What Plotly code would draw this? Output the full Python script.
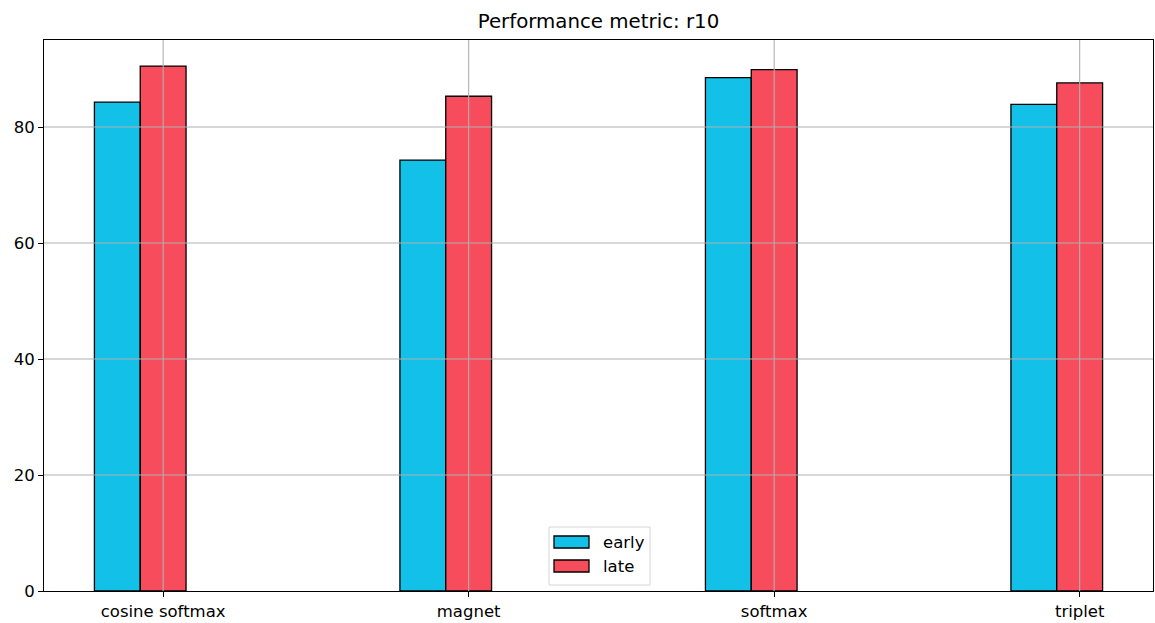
import plotly.graph_objects as go

# Recall@10 per loss function, at the early and late checkpoints
categories = ["cosine softmax", "magnet", "softmax", "triplet"]
early = [84.3, 74.3, 88.5, 83.9]
late = [90.5, 85.3, 89.9, 87.6]
y_ticks = [0, 20, 40, 60, 80]

EARLY_COLOR = "#13c1e8"
LATE_COLOR = "#f64c5b"
GRID_COLOR = "#b0b0b0"
FONT = "DejaVu Sans"
TICK_SIZE = 16.5

W, H = 1155, 623
M_L, M_R, M_T, M_B = 44, 2, 40, 32
PLOT_W = W - M_L - M_R
PLOT_H = H - M_T - M_B

positions = list(range(len(categories)))
bar_width = 0.15

series = [("early", early, EARLY_COLOR, -0.225), ("late", late, LATE_COLOR, -0.075)]

fig = go.Figure()
for name, vals, color, off in series:
    fig.add_trace(go.Bar(
        x=positions, y=vals, name=name,
        width=bar_width, offset=off, showlegend=False,
        marker=dict(color=color, line=dict(color="black", width=1.3)),
    ))


def px(x):
    return (x - M_L) / PLOT_W


def py(y):
    return (H - M_B - y) / PLOT_H


# grid lines drawn above the bars
shapes = []
for v in y_ticks[1:]:
    shapes.append(dict(type="line", xref="paper", yref="y", x0=0, x1=1, y0=v, y1=v,
                       line=dict(color=GRID_COLOR, width=1.1), layer="above"))
for p in positions:
    shapes.append(dict(type="line", xref="x", yref="paper", x0=p, x1=p, y0=0, y1=1,
                       line=dict(color=GRID_COLOR, width=1.1), layer="above"))

# legend box at lower centre with wide patch swatches
annotations = []
box_l, box_r, box_t, box_b = 549, 650, 527, 585
shapes.append(dict(type="rect", xref="paper", yref="paper",
                   x0=px(box_l), x1=px(box_r), y0=py(box_b), y1=py(box_t),
                   fillcolor="rgba(255,255,255,0.8)", line=dict(color="#d6d6d6", width=1),
                   layer="above"))
for i, (name, _, color, _) in enumerate(series):
    cy = 542 + 24 * i
    shapes.append(dict(type="rect", xref="paper", yref="paper",
                       x0=px(554), x1=px(589), y0=py(cy + 6), y1=py(cy - 6),
                       fillcolor=color, line=dict(color="black", width=1.3), layer="above"))
    annotations.append(dict(text=name, xref="paper", yref="paper", x=px(601), y=py(cy),
                            xanchor="left", yanchor="middle", showarrow=False,
                            font=dict(family=FONT, size=TICK_SIZE, color="black")))

fig.update_layout(
    width=W, height=H,
    margin=dict(l=M_L, r=M_R, t=M_T, b=M_B),
    paper_bgcolor="white", plot_bgcolor="white",
    barmode="overlay",
    font=dict(family=FONT, size=TICK_SIZE, color="black"),
    title=dict(text="Performance metric: r10", x=0.5, xanchor="center",
               xref="paper", y=1 - 21 / H, yanchor="middle",
               font=dict(family=FONT, size=19.8, color="black")),
    showlegend=False,
    shapes=shapes,
    annotations=annotations,
)
fig.update_xaxes(
    range=[-0.39, 3.24], tickmode="array", tickvals=positions, ticktext=categories,
    showgrid=False, zeroline=False,
    showline=True, linecolor="black", linewidth=1.1, mirror=True,
    ticks="outside", ticklen=5, tickwidth=1.1, tickcolor="black",
    tickfont=dict(family=FONT, size=TICK_SIZE),
)
fig.update_yaxes(
    range=[0, 95], tickmode="array", tickvals=y_ticks,
    showgrid=False, zeroline=False,
    showline=True, linecolor="black", linewidth=1.1, mirror=True,
    ticks="outside", ticklen=5, tickwidth=1.1, tickcolor="black",
    tickfont=dict(family=FONT, size=TICK_SIZE),
)

fig.write_html("out.html")
